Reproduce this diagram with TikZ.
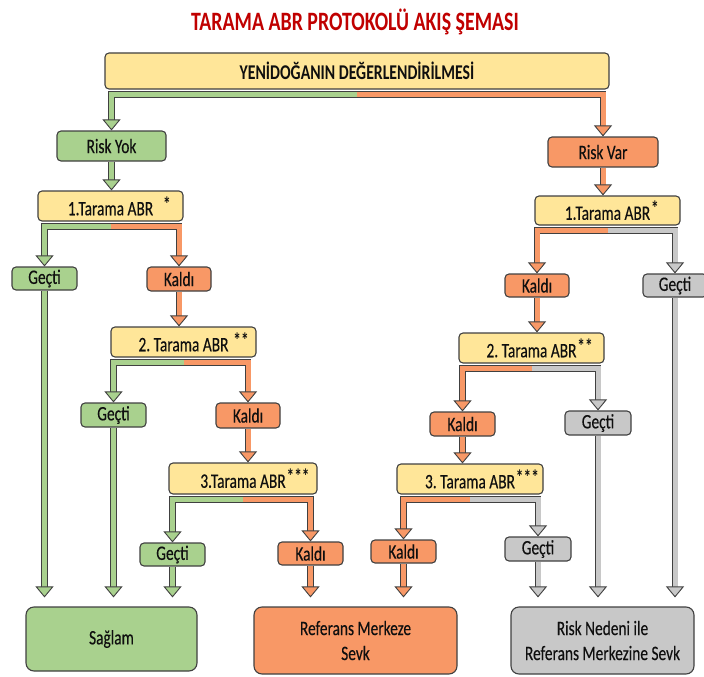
\documentclass[tikz,border=0pt]{standalone}
\usepackage{fontspec}
\setmainfont{Carlito}[FakeStretch=0.75, UprightFeatures={FakeBold=0.3}]
\usetikzlibrary{arrows.meta,calc}

\definecolor{boxline}{RGB}{64,64,64}
\definecolor{txt}{RGB}{15,15,15}
\definecolor{fillY}{RGB}{255,230,153}
\definecolor{fillG}{RGB}{169,209,142}
\definecolor{fillO}{RGB}{248,152,102}
\definecolor{fillS}{RGB}{200,200,200}
\definecolor{titlered}{RGB}{192,0,0}

% raised asterisks hanging right of a centred label
\newcommand\abrstar[2]{\rlap{\hspace{#1}\raisebox{4pt}{\bfseries #2}}}

\tikzset{
  box/.style={draw=boxline, line width=1.1pt, rounded corners=4pt, inner sep=0pt,
              text=txt, font=\fontsize{20.5}{23}\selectfont},
  ybox/.style={box, fill=fillY},
  gbox/.style={box, fill=fillG},
  obox/.style={box, fill=fillO},
  sbox/.style={box, fill=fillS},
  endbox/.style={box, rounded corners=8pt, align=center, font=\fontsize{20.5}{25}\selectfont},
  link/.style={draw=boxline, line width=0.9pt, double=#1, double distance=5pt,
               line cap=butt, line join=miter},
  arr/.style={link=#1, -{Triangle[width=18pt,length=11pt,line width=0.9pt,fill=#1,color=boxline]}},
}

\begin{document}
\frenchspacing
\begin{tikzpicture}
\useasboundingbox (0,0) rectangle (704pt,-677pt);

% title
\node[font=\fontsize{26.5}{28}\selectfont\bfseries, text=titlered] (title) at (355pt,-22pt)
  {TARAMA ABR PROTOKOLÜ AKIŞ ŞEMASI};

% top level
\node[ybox, font=\fontsize{21}{23}\selectfont\bfseries, minimum width=504pt, minimum height=36pt] (Y) at (357pt,-71pt)
  {YENİDOĞANIN DEĞERLENDİRİLMESİ};
\node[gbox, minimum width=109pt, minimum height=30pt] (rYok) at (111.5pt,-146pt) {Risk Yok};
\node[obox, minimum width=110pt, minimum height=30pt] (rVar) at (603pt,-152pt) {Risk Var};

% left column (no risk)
\node[ybox, minimum width=145pt, minimum height=30pt] (t1L) at (110.5pt,-206pt) {1.Tarama ABR\abrstar{10pt}{*}};
\node[gbox, minimum width=65pt, minimum height=23pt] (g1L) at (44.5pt,-278.5pt) {Geçti};
\node[obox, minimum width=64pt, minimum height=24pt] (k1L) at (179pt,-279pt) {Kaldı};
\node[ybox, minimum width=145pt, minimum height=30pt] (t2L) at (183.5pt,-342pt) {2. Tarama ABR\abrstar{5pt}{**}};
\node[gbox, minimum width=65pt, minimum height=24pt] (g2L) at (113.5pt,-415pt) {Geçti};
\node[obox, minimum width=64pt, minimum height=25pt] (k2L) at (248pt,-415.5pt) {Kaldı};
\node[ybox, minimum width=148pt, minimum height=31pt] (t3L) at (243pt,-478.5pt) {3.Tarama ABR\abrstar{1pt}{***}};
\node[gbox, minimum width=65pt, minimum height=23pt] (g3L) at (172.5pt,-554.5pt) {Geçti};
\node[obox, minimum width=65pt, minimum height=23pt] (k3L) at (310.5pt,-553.5pt) {Kaldı};

% right column (risk)
\node[ybox, minimum width=145pt, minimum height=29pt] (t1R) at (607.5pt,-210.5pt) {1.Tarama ABR\abrstar{1pt}{*}};
\node[obox, minimum width=64pt, minimum height=23pt] (k1R) at (537pt,-285.5pt) {Kaldı};
\node[sbox, minimum width=64pt, minimum height=23pt] (g1R) at (675pt,-285.5pt) {Geçti};
\node[ybox, minimum width=145pt, minimum height=30pt] (t2R) at (531.5pt,-348pt) {2. Tarama ABR\abrstar{1pt}{**}};
\node[obox, minimum width=65pt, minimum height=24pt] (k2R) at (462.5pt,-424pt) {Kaldı};
\node[sbox, minimum width=66pt, minimum height=24pt] (g2R) at (598pt,-423pt) {Geçti};
\node[ybox, minimum width=146pt, minimum height=30pt] (t3R) at (470pt,-479pt) {3. Tarama ABR\abrstar{1pt}{***}};
\node[obox, minimum width=65pt, minimum height=23pt] (k3R) at (403.5pt,-551.5pt) {Kaldı};
\node[sbox, minimum width=66pt, minimum height=24pt] (g3R) at (538pt,-549pt) {Geçti};

% outcomes
\node[endbox, fill=fillG, minimum width=171pt, minimum height=64pt] (saglam) at (111.5pt,-639pt) {Sağlam};
\node[endbox, fill=fillO, minimum width=203pt, minimum height=67pt] (ref) at (355.5pt,-640.5pt) {Referans Merkeze\\Sevk};
\node[endbox, fill=fillS, minimum width=183pt, minimum height=67pt] (risk) at (602.5pt,-640.5pt) {Risk Nedeni ile\\Referans Merkezine Sevk};

% split points just below each screening box
\coordinate (sY)  at ($(Y.south)+(0,-5pt)$);
\coordinate (s1L) at ($(t1L.south)+(0,-5pt)$);
\coordinate (s2L) at ($(t2L.south)+(0,-5pt)$);
\coordinate (s3L) at ($(t3L.south)+(0,-5pt)$);
\coordinate (s1R) at ($(t1R.south)+(0,-5pt)$);
\coordinate (s2R) at ($(t2R.south)+(0,-5pt)$);
\coordinate (s3R) at ($(t3R.south)+(0,-5pt)$);

% branches
\draw[arr=fillG] (sY) -| (rYok.north);
\draw[arr=fillO] (sY) -| (rVar.north);
\draw[arr=fillG] (s1L) -| (g1L.north);
\draw[arr=fillO] (s1L) -| (k1L.north);
\draw[arr=fillG] (s2L) -| (g2L.north);
\draw[arr=fillO] (s2L) -| (k2L.north);
\draw[arr=fillG] (s3L) -| (g3L.north);
\draw[arr=fillO] (s3L) -| (k3L.north);
\draw[arr=fillO] (s1R) -| (k1R.north);
\draw[arr=fillS] (s1R) -| (g1R.north);
\draw[arr=fillO] (s2R) -| (k2R.north);
\draw[arr=fillS] (s2R) -| (g2R.north);
\draw[arr=fillO] (s3R) -| (k3R.north);
\draw[arr=fillS] (s3R) -| (g3R.north);

% straight steps
\draw[arr=fillG] (rYok.south) -- (rYok.south |- t1L.north);
\draw[arr=fillO] (rVar.south) -- (rVar.south |- t1R.north);
\draw[arr=fillO] (k1L.south) -- (k1L.south |- t2L.north);
\draw[arr=fillO] (k2L.south) -- (k2L.south |- t3L.north);
\draw[arr=fillO] (k1R.south) -- (k1R.south |- t2R.north);
\draw[arr=fillO] (k2R.south) -- (k2R.south |- t3R.north);

% down to the outcomes
\draw[arr=fillG] (g1L.south) -- ($(g1L.south |- saglam.north)+(0,9pt)$);
\draw[arr=fillG] (g2L.south) -- ($(g2L.south |- saglam.north)+(0,9pt)$);
\draw[arr=fillG] (g3L.south) -- ($(g3L.south |- saglam.north)+(0,9pt)$);
\draw[arr=fillO] (k3L.south) -- ($(k3L.south |- ref.north)+(0,9pt)$);
\draw[arr=fillO] (k3R.south) -- ($(k3R.south |- ref.north)+(0,9pt)$);
\draw[arr=fillS] (g3R.south) -- ($(g3R.south |- risk.north)+(0,9pt)$);
\draw[arr=fillS] (g2R.south) -- ($(g2R.south |- risk.north)+(0,9pt)$);
\draw[arr=fillS] (g1R.south) -- ($(g1R.south |- risk.north)+(0,9pt)$);
\end{tikzpicture}
\end{document}
